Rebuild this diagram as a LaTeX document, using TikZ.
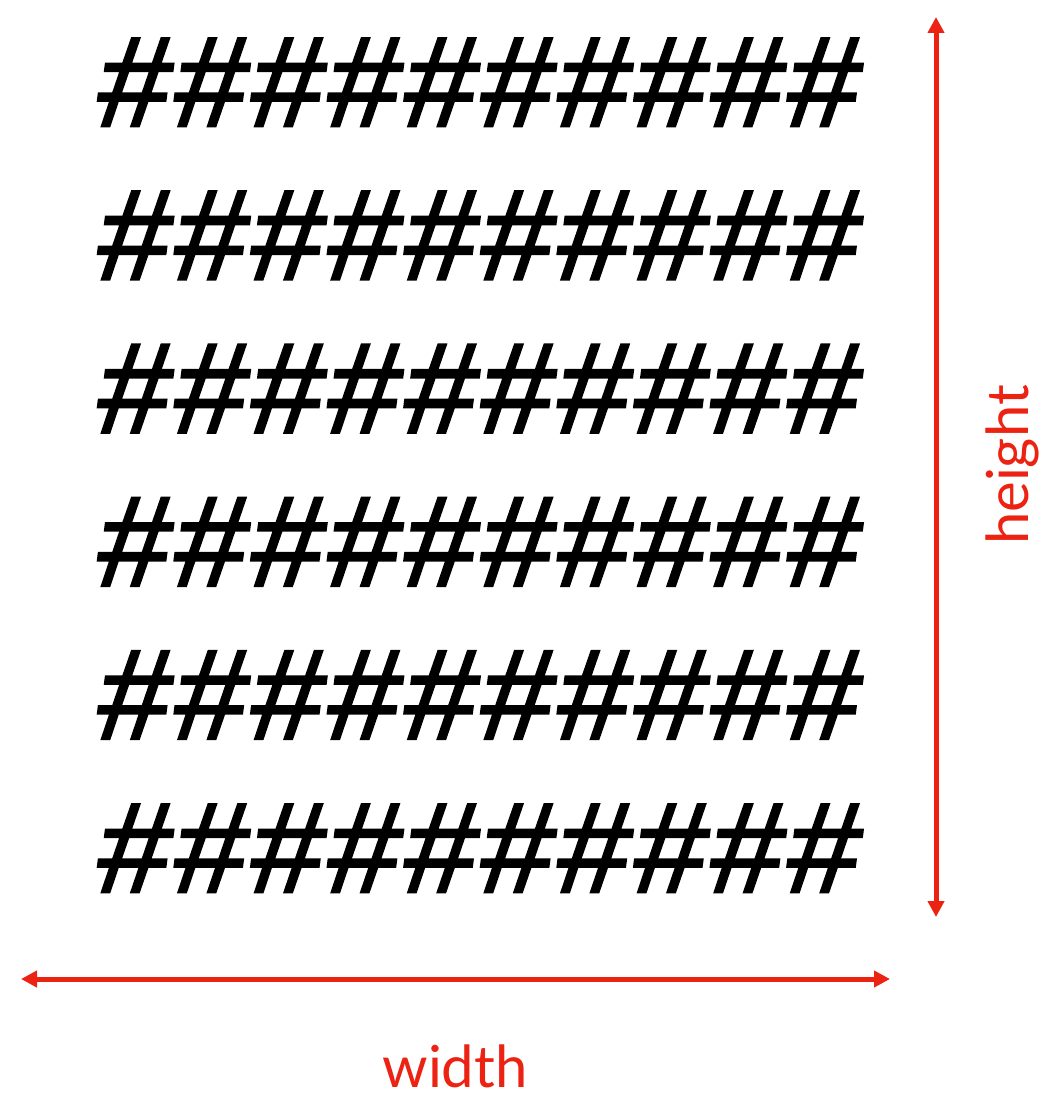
\documentclass[tikz,border=0pt]{standalone}
\usepackage{fontspec}
\usepackage{tikz}
\usetikzlibrary{arrows.meta, positioning}
\setmainfont{Lato}
\newfontfamily\hashfont[FakeBold=2.2, FakeSlant=0.13]{Liberation Sans}
\definecolor{dimred}{RGB}{236,34,18}
\tikzstyle{hashchar} = [inner sep=0pt, anchor=base, font=\hashfont\fontsize{64}{64}\selectfont]
\tikzstyle{dimarrow} = [dimred, line width=2.5pt, {Triangle[length=8pt,width=8pt]}-{Triangle[length=8pt,width=8pt]}]
\tikzstyle{dimlabel} = [dimred, inner sep=0pt, font=\fontsize{29}{29}\selectfont]

\begin{document}
\begin{tikzpicture}[x=0.5pt, y=-0.5pt]
    \useasboundingbox (0,0) rectangle (1053,1097);

    % block of hash marks
    \foreach \r in {0,...,5} {
      \foreach \c in {0,...,9} {
        \node (h\r\c) [hashchar] at ({130+76.6*\c}, {126+153.2*\r}) {\#};
      }
    }

    \coordinate (htop) at (936,17);
    \coordinate (hbot) at (936,917);
    \coordinate (wleft) at (21,979);
    \coordinate (wright) at (890,979);

    \draw [dimarrow] (htop) -- (hbot);
    \draw [dimarrow] (wleft) -- (wright);

    \node (wlabel) [dimlabel, anchor=base] at (455,1087) {width};
    \node (hlabel) [dimlabel, anchor=base, rotate=90] at (1028,465) {height};
  \end{tikzpicture}
\end{document}
